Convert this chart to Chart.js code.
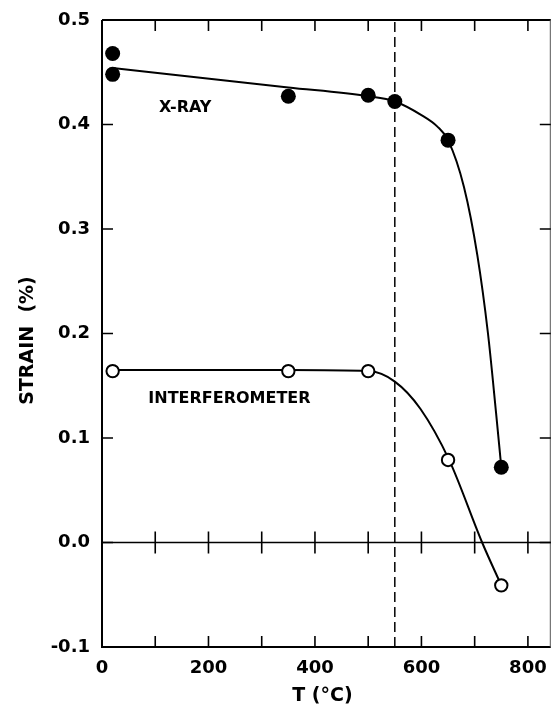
<!DOCTYPE html>
<html>
<head>
<meta charset="utf-8">
<script src="https://cdn.jsdelivr.net/npm/chart.js@4/dist/chart.umd.min.js"></script>
<style>
  html, body { margin: 0; padding: 0; background: #fff; overflow: hidden; }
  #outer { width: 551px; height: 709px; overflow: hidden; position: relative; }
  /* slightly wider than the page: the space Chart.js reserves for the last x label falls outside */
  #wrap { width: 559px; height: 709px; position: absolute; left: 0; top: 0; }
</style>
</head>
<body>
<div id="outer"><div id="wrap"><canvas id="c"></canvas></div></div>
<script>
// Measured strain (%) versus temperature T (°C)
const xrayT = [20, 20, 350, 500, 550, 650, 750];
const xrayStrain = [0.468, 0.448, 0.427, 0.428, 0.422, 0.385, 0.072];
const interT = [20, 350, 500, 650, 750];
const interStrain = [0.164, 0.164, 0.164, 0.079, -0.041];

// Hand-drawn trend curves through the measurements
const xrayCurveT = [20, 350, 500, 550, 600, 630, 650, 680, 705, 725, 740, 750];
const xrayCurveStrain = [0.454, 0.4355, 0.427, 0.422, 0.409, 0.398, 0.385, 0.340, 0.275, 0.200, 0.125, 0.072];
const interCurveT = [20, 350, 500, 550, 598, 652, 714, 750];
const interCurveStrain = [0.165, 0.165, 0.164, 0.154, 0.128, 0.079, 0.0, -0.041];

// Transition temperature marker
const transitionT = 550;

// Axis labels and tick marks
const xTickLabels = ['0', '200', '400', '600', '800'];
const yTickLabels = ['-0.1', '0.0', '0.1', '0.2', '0.3', '0.4', '0.5'];
const xMarks = [100, 200, 300, 400, 500, 600, 700, 800];
const yMarks = [0.0, 0.1, 0.2, 0.3, 0.4];
const curveLabels = ['X-RAY', 'INTERFEROMETER'];
const curveLabelT = [107, 87];
const curveLabelStrain = [0.4156, 0.137];
const xTitle = 'T (°C)';
const yTitle = 'STRAIN  (%)';

const pts = (xs, ys) => xs.map((x, i) => ({ x, y: ys[i] }));
const FONT = '"DejaVu Sans", sans-serif';

const frame = {
  id: 'frame',
  beforeDatasetsDraw(chart) {
    const { ctx, chartArea: a, scales: { x, y } } = chart;
    ctx.save();
    ctx.strokeStyle = '#000';
    ctx.lineCap = 'butt';
    // box
    ctx.lineWidth = 2;
    ctx.beginPath();
    ctx.moveTo(a.left, a.top); ctx.lineTo(a.left, a.bottom); ctx.lineTo(a.right, a.bottom);
    ctx.moveTo(a.left, a.top); ctx.lineTo(a.right, a.top);
    ctx.stroke();
    ctx.lineWidth = 1;
    ctx.strokeStyle = '#555';
    ctx.beginPath();
    ctx.moveTo(a.right - 0.5, a.top); ctx.lineTo(a.right - 0.5, a.bottom);
    ctx.stroke();
    ctx.strokeStyle = '#000';
    // zero line
    const y0 = y.getPixelForValue(0);
    ctx.lineWidth = 1.6;
    ctx.beginPath(); ctx.moveTo(a.left, y0); ctx.lineTo(a.right, y0); ctx.stroke();
    // inward ticks
    const L = 11;
    ctx.lineWidth = 1.6;
    ctx.beginPath();
    xMarks.forEach(v => {
      const px = x.getPixelForValue(v);
      ctx.moveTo(px, a.bottom); ctx.lineTo(px, a.bottom - L);
      ctx.moveTo(px, a.top); ctx.lineTo(px, a.top + L);
      ctx.moveTo(px, y0 - L); ctx.lineTo(px, y0 + L);
    });
    yMarks.forEach(v => {
      const py = y.getPixelForValue(v);
      ctx.moveTo(a.left, py); ctx.lineTo(a.left + L, py);
      ctx.moveTo(a.right, py); ctx.lineTo(a.right - L, py);
    });
    ctx.stroke();
    ctx.restore();
  },
  afterDraw(chart) {
    const { ctx, chartArea: a, scales: { x, y } } = chart;
    ctx.save();
    ctx.fillStyle = '#000';
    ctx.font = 'bold 16px ' + FONT;
    ctx.textAlign = 'left';
    ctx.textBaseline = 'middle';
    curveLabels.forEach((t, i) => {
      ctx.fillText(t, x.getPixelForValue(curveLabelT[i]), y.getPixelForValue(curveLabelStrain[i]));
    });
    // axis titles
    ctx.font = 'bold 19px ' + FONT;
    ctx.textAlign = 'center';
    ctx.textBaseline = 'middle';
    ctx.fillText(xTitle, (a.left + a.right) / 2 - 4, 696);
    ctx.translate(28, (a.top + a.bottom) / 2 + 7);
    ctx.rotate(-Math.PI / 2);
    ctx.fillText(yTitle, 0, 0);
    ctx.restore();
  }
};

new Chart(document.getElementById('c'), {
  type: 'scatter',
  data: {
    datasets: [
      { data: pts(xrayT, xrayStrain), pointRadius: 7.5, pointBackgroundColor: '#000', pointBorderColor: '#000', pointBorderWidth: 0, showLine: false, order: 0 },
      { data: pts(interT, interStrain), pointRadius: 6.2, pointBackgroundColor: '#fff', pointBorderColor: '#000', pointBorderWidth: 2, showLine: false, order: 0 },
      { data: pts(xrayCurveT, xrayCurveStrain), showLine: true, pointRadius: 0, borderColor: '#000', borderWidth: 2, cubicInterpolationMode: 'monotone', order: 1 },
      { data: pts(interCurveT, interCurveStrain), showLine: true, pointRadius: 0, borderColor: '#000', borderWidth: 2, cubicInterpolationMode: 'monotone', order: 1 },
      { data: [{ x: transitionT, y: -0.1 }, { x: transitionT, y: 0.5 }], showLine: true, pointRadius: 0, borderColor: '#000', borderWidth: 1.5, borderDash: [10, 5], order: 2 }
    ]
  },
  options: {
    responsive: true,
    maintainAspectRatio: false,
    animation: false,
    devicePixelRatio: 1,
    layout: { padding: { left: 0, right: 1, top: 20, bottom: 0 } },
    plugins: { legend: { display: false }, tooltip: { enabled: false } },
    events: [],
    scales: {
      x: {
        type: 'linear', min: 0, max: 843,
        border: { display: false },
        grid: { display: false, drawTicks: true, tickLength: 11 },
        afterFit: s => { s.height = 62; },
        ticks: {
          stepSize: 200, includeBounds: false, padding: 0, color: '#000',
          font: { family: FONT, size: 18, weight: 'bold' },
          maxRotation: 0, autoSkip: false,
          callback: (v) => xTickLabels[xTickLabels.indexOf(String(Math.round(v)))] ?? ''
        }
      },
      y: {
        type: 'linear', min: -0.1, max: 0.5,
        border: { display: false },
        grid: { display: false, drawTicks: true, tickLength: 12 },
        afterFit: s => { s.width = 102; },
        ticks: {
          stepSize: 0.1, padding: 0, color: '#000',
          font: { family: FONT, size: 18, weight: 'bold' },
          callback: (v, i) => yTickLabels[i]
        }
      }
    }
  },
  plugins: [frame]
});
</script>
</body>
</html>
